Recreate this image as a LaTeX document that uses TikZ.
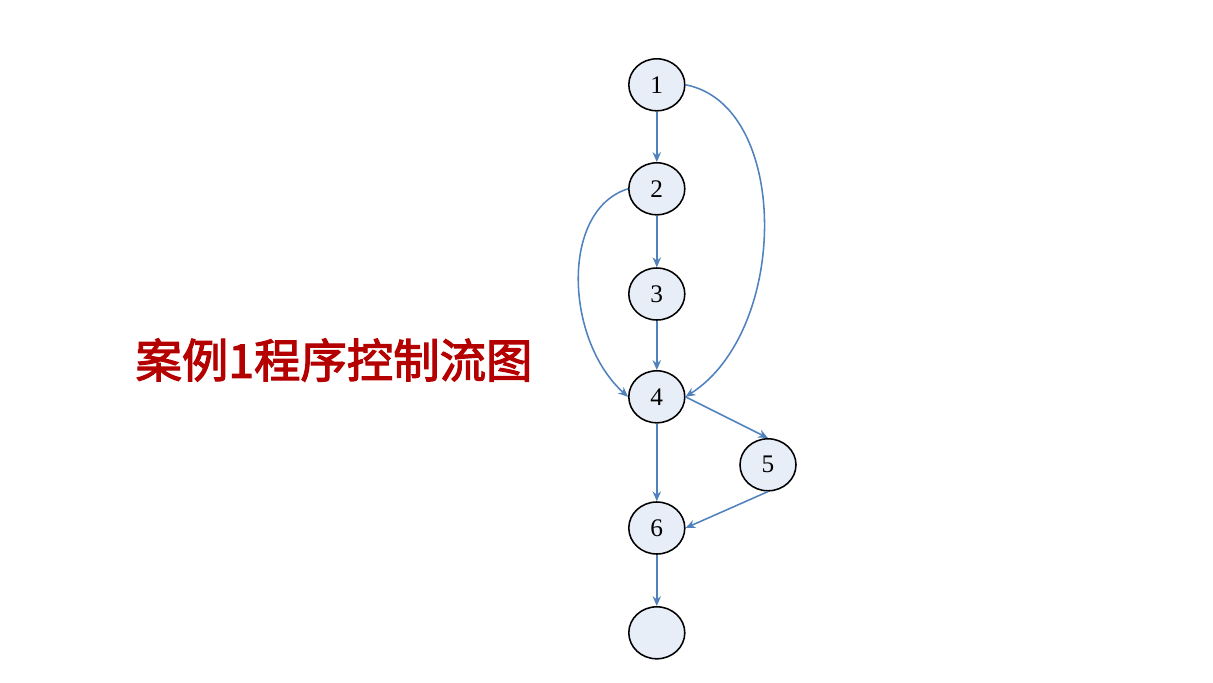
\documentclass[tikz,border=0pt]{standalone}
\usepackage{fontspec}
\setmainfont{Liberation Serif}
\newfontfamily\cjk[AutoFakeBold=2.5]{Noto Sans CJK SC}
\usetikzlibrary{shapes.geometric, arrows.meta}
\definecolor{edgeblue}{RGB}{79,129,189}
\definecolor{nodefill}{RGB}{232,238,247}
\definecolor{titlered}{RGB}{180,0,0}
\tikzstyle{block} = [ellipse, draw=black, line width=1.1pt, fill=nodefill, minimum width=1.4cm, minimum height=1.3cm, inner sep=0pt, font=\fontsize{18}{18}\selectfont]
\tikzstyle{arrow} = [draw=edgeblue, line width=1.1pt, ->, >={Stealth[length=7pt,width=6pt]}]
\tikzstyle{title} = [text=titlered, font=\cjk\bfseries\fontsize{33}{33}\selectfont]

\begin{document}
\begin{tikzpicture}
    \useasboundingbox (0,0) rectangle (30.325,-17.05);
    \node [title] at (8.35,-9.0) (caption) {案例1程序控制流图};
    \node [block] at (16.42,-2.12) (n1) {1};
    \node [block] at (16.42,-4.72) (n2) {2};
    \node [block] at (16.42,-7.35) (n3) {3};
    \node [block] at (16.42,-9.92) (n4) {4};
    \node [block] at (19.2,-11.62) (n5) {5};
    \node [block] at (16.42,-13.2) (n6) {6};
    \node [block] at (16.42,-15.82) (exit) {};
    \draw [arrow] (n1) -- (n2);
    \draw [arrow] (n2) -- (n3);
    \draw [arrow] (n3) -- (n4);
    \draw [arrow] (n4) -- (n6);
    \draw [arrow] (n6) -- (exit);
    \draw [arrow] (n4.east) -- (n5.north);
    \draw [arrow] (n5.south) -- (n6.east);
    \draw [arrow] (n1.east) .. controls (19.75,-2.62) and (19.75,-8.25) .. (n4.east);
    \draw [arrow] (n2.west) .. controls (14.0,-5.25) and (14.12,-8.5) .. (n4.west);
\end{tikzpicture}
\end{document}
